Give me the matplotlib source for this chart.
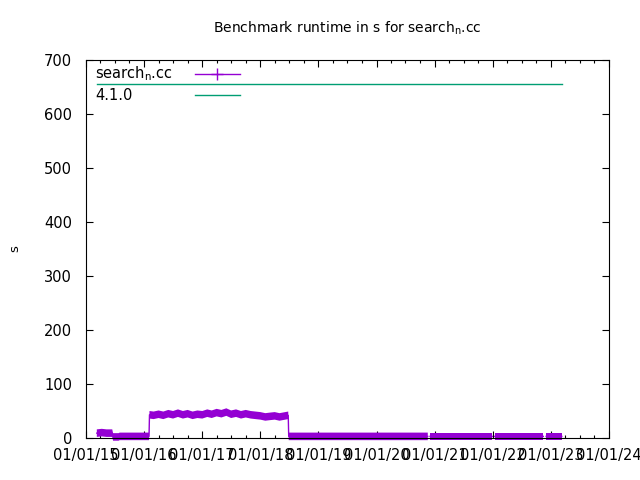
import numpy as np
import pandas as pd
import matplotlib
matplotlib.use('Agg')
import matplotlib.pyplot as plt
import matplotlib.dates as mdates

# runtime of search_n.cc per benchmark run (None = gap in the series)
run_dates = [
    '2015-03-10', '2015-04-10', '2015-05-10', '2015-06-15',
    '2015-06-20', '2015-07-25',
    '2015-08-01', '2015-11-01', '2016-02-01',
    '2016-02-04', '2016-03-01', '2016-04-01', '2016-05-01', '2016-06-01', '2016-07-01',
    '2016-08-01', '2016-09-01', '2016-10-01', '2016-11-01', '2016-12-01',
    '2017-01-01', '2017-02-01', '2017-03-01', '2017-04-01', '2017-05-01', '2017-06-01',
    '2017-07-01', '2017-08-01', '2017-09-01', '2017-10-01', '2017-11-01', '2017-12-01',
    '2018-01-01', '2018-02-01', '2018-03-01', '2018-04-01', '2018-05-01', '2018-06-25',
    '2018-06-28', '2019-01-01', '2019-07-01', '2020-01-01', '2020-07-01', '2020-11-18',
    '2020-11-25',
    '2020-12-02', '2021-06-01', '2021-12-28',
    '2022-01-05',
    '2022-01-12', '2022-06-01', '2022-11-14',
    '2022-11-25',
    '2022-12-02', '2023-03-10',
]
run_values = [
    9, 10, 9, 9,
    2, 2,
    3, 3, 3,
    43, 42, 44, 42, 45, 43,
    46, 43, 45, 42, 44,
    43, 46, 44, 47, 45, 48,
    44, 46, 43, 45, 43, 42,
    41, 39, 40, 41, 39, 42,
    3, 3, 3, 3, 3, 3,
    None,
    3, 3, 3,
    None,
    3, 3, 3,
    None,
    3, 3,
]

# reference runtime of version 4.1.0
ref_dates = ['2015-03-10', '2023-03-10']
ref_values = [655, 655]

x_ticks = ['2015-01-01', '2016-01-01', '2017-01-01', '2018-01-01', '2019-01-01',
           '2020-01-01', '2021-01-01', '2022-01-01', '2023-01-01', '2024-01-01']

purple = '#9400d3'
green = '#009e73'

plt.rcParams['font.family'] = 'DejaVu Sans'

fig = plt.figure(figsize=(6.4, 4.8), dpi=100)
ax = fig.add_axes([86 / 640, 1 - 438 / 480, 523 / 640, 378 / 480])

d = pd.to_datetime(run_dates)
v = np.array([np.nan if x is None else x for x in run_values], dtype=float)

half = 7
ax.fill_between(d, v - half, v + half, color=purple, lw=0, clip_on=False, zorder=3)
ax.plot(d, v, color=purple, lw=1, clip_on=False, zorder=3)
ax.plot(pd.to_datetime(ref_dates), ref_values, color=green, lw=1)

ax.set_xlim(pd.Timestamp(x_ticks[0]), pd.Timestamp(x_ticks[-1]))
ax.set_ylim(0, 700)
ax.set_xticks(pd.to_datetime(x_ticks))
ax.xaxis.set_major_formatter(mdates.DateFormatter('%m/%d/%y'))
ax.xaxis.set_minor_locator(mdates.MonthLocator(bymonth=[4, 7, 10]))
ax.set_yticks(range(0, 701, 100))

ax.tick_params(axis='both', which='both', direction='in', top=True, right=True,
               labelsize=10.5, width=0.8, colors='black')
ax.tick_params(which='major', length=5, pad=7)
ax.tick_params(which='minor', length=2.5)
ax.tick_params(axis='y', pad=10)
for s in ax.spines.values():
    s.set_linewidth(0.8)
    s.set_zorder(4)

ax.set_title('Benchmark runtime in s for search$_{\\mathregular{n}}$.cc', fontsize=10, pad=20)
ax.set_ylabel('s', fontsize=9.5, labelpad=16)

# key, gnuplot style: text first, sample line after it
ax.text(0.017, 0.963, 'search$_{\\mathregular{n}}$.cc', transform=ax.transAxes,
        fontsize=10.5, va='center', ha='left')
ax.text(0.017, 0.907, '4.1.0', transform=ax.transAxes,
        fontsize=10.5, va='center', ha='left')
ax.plot([0.208, 0.294], [0.963, 0.963], color=purple, lw=1, transform=ax.transAxes)
ax.plot([0.251], [0.963], color=purple, marker='+', ms=8, transform=ax.transAxes)
ax.plot([0.208, 0.294], [0.907, 0.907], color=green, lw=1, transform=ax.transAxes)

fig.savefig('out.png', dpi=100)
